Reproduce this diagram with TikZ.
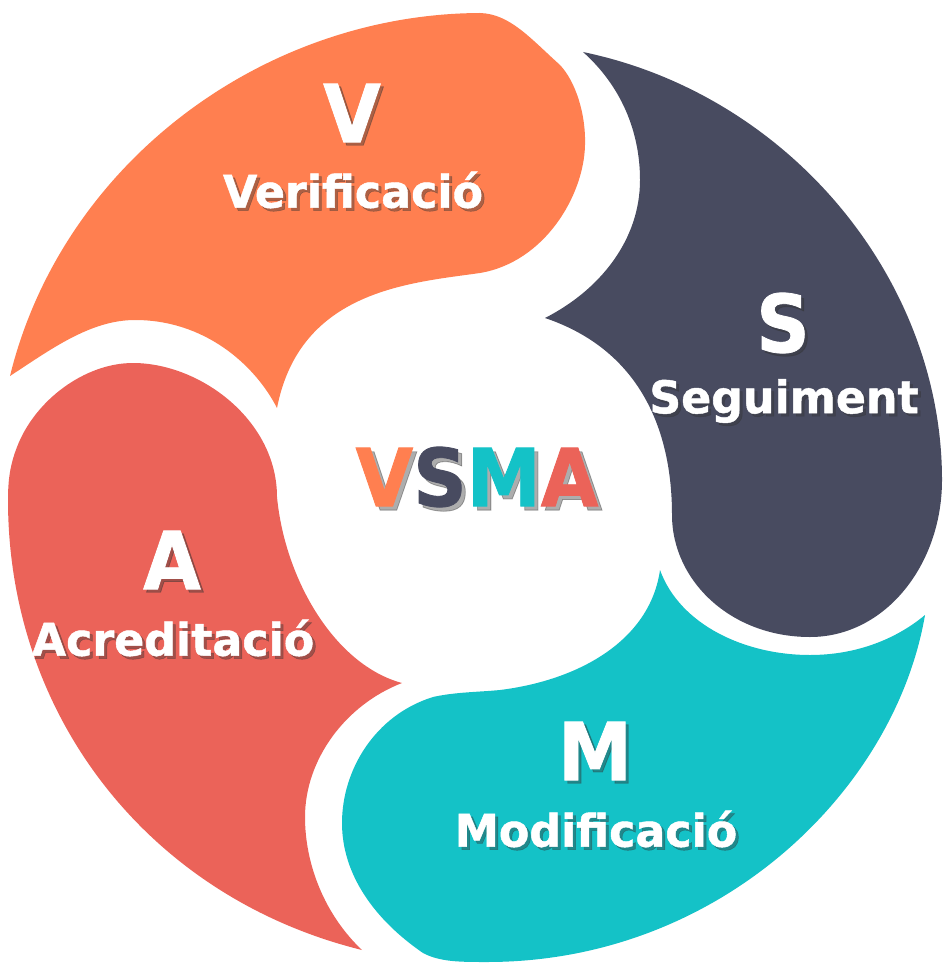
\documentclass[tikz,border=0pt]{standalone}
\usepackage{fontspec}
\setmainfont{DejaVu Sans}
\newfontfamily\labelfont[FakeStretch=0.93,FakeBold=1]{DejaVu Sans Bold}
\newfontfamily\wordfont[FakeStretch=0.985,FakeBold=1]{DejaVu Sans Bold}

\definecolor{vorange}{HTML}{FF7F50}
\definecolor{sdark}{HTML}{484B60}
\definecolor{mteal}{HTML}{14C2C7}
\definecolor{ared}{HTML}{EB6359}

\tikzset{
    letter/.style={font=\labelfont\fontsize{80}{80}\selectfont, text=white, inner sep=0pt},
    word/.style={font=\wordfont\fontsize{45}{45}\selectfont, text=white, inner sep=0pt},
    shadowtext/.style={text=black!80, opacity=0.4},
}

\begin{document}
\begin{tikzpicture}[x=1pt,y=-1pt]
    \useasboundingbox (0,0) rectangle (949,973);
    % V
    \fill[vorange] (10,376) .. controls (62,164) and (262,14) .. (480,13)
        .. controls (510,14) and (530,38) .. (560,65)
        .. controls (576,82) and (586,115) .. (585,145)
        .. controls (584,195) and (545,262) .. (480,273)
        .. controls (410,283) and (300,290) .. (277,408)
        .. controls (255,365) and (205,320) .. (135,320)
        .. controls (90,320) and (50,350) .. (10,376) -- cycle;
    % S
    \fill[sdark] (583,52) .. controls (790,95) and (942,280) .. (942,480)
        .. controls (942,565) and (885,637) .. (810,637)
        .. controls (730,637) and (672,580) .. (672,515)
        .. controls (672,430) and (640,350) .. (545,318)
        .. controls (600,290) and (640,240) .. (640,180)
        .. controls (640,130) and (620,85) .. (583,52) -- cycle;
    % M
    \fill[mteal] (925,615) .. controls (895,790) and (720,962) .. (487,962)
        .. controls (460,962) and (440,962) .. (423,953)
        .. controls (375,920) and (342,875) .. (342,823)
        .. controls (342,770) and (375,715) .. (433,697)
        .. controls (455,692) and (480,692) .. (500,690)
        .. controls (580,680) and (650,640) .. (660,570)
        .. controls (680,625) and (745,655) .. (810,655)
        .. controls (855,655) and (895,640) .. (925,615) -- cycle;
    % A
    \fill[ared] (362,950) .. controls (151,898) and (8,718) .. (8,500)
        .. controls (8,480) and (10,465) .. (17,447)
        .. controls (35,400) and (85,363) .. (133,363)
        .. controls (200,363) and (277,420) .. (277,497)
        .. controls (285,580) and (335,665) .. (402,683)
        .. controls (345,705) and (305,760) .. (305,817)
        .. controls (305,865) and (325,915) .. (362,950) -- cycle;

    % shadows first, the white text on top
    \node[letter, shadowtext] (vshadow) at (355,116) {V};
    \node[word, shadowtext] (vwshadow) at (356,193) {Verificació};
    \node[letter, shadowtext] (sshadow) at (786,326) {S};
    \node[word, shadowtext] (swshadow) at (787,404) {Seguiment};
    \node[letter, shadowtext] (mshadow) at (598,754) {M};
    \node[word, shadowtext] (mwshadow) at (599,832) {Modificació};
    \node[letter, shadowtext] (ashadow) at (175,563) {A};
    \node[word, shadowtext] (awshadow) at (176,641) {Acreditació};

    \node[letter] (v) at (352,113) {V};
    \node[word] (vword) at (353,190) {Verificació};
    \node[letter] (s) at (783,323) {S};
    \node[word] (sword) at (784,401) {Seguiment};
    \node[letter] (m) at (595,751) {M};
    \node[word] (mword) at (596,829) {Modificació};
    \node[letter] (a) at (172,560) {A};
    \node[word] (aword) at (173,638) {Acreditació};

    % centre
    \node[letter, shadowtext] (vsmashadow) at (481,481) {VSMA};
    \node[letter, anchor=center] (vsma) at (477,477)
        {\textcolor{vorange}{V}\textcolor{sdark}{S}\textcolor{mteal}{M}\textcolor{ared}{A}};
\end{tikzpicture}
\end{document}
